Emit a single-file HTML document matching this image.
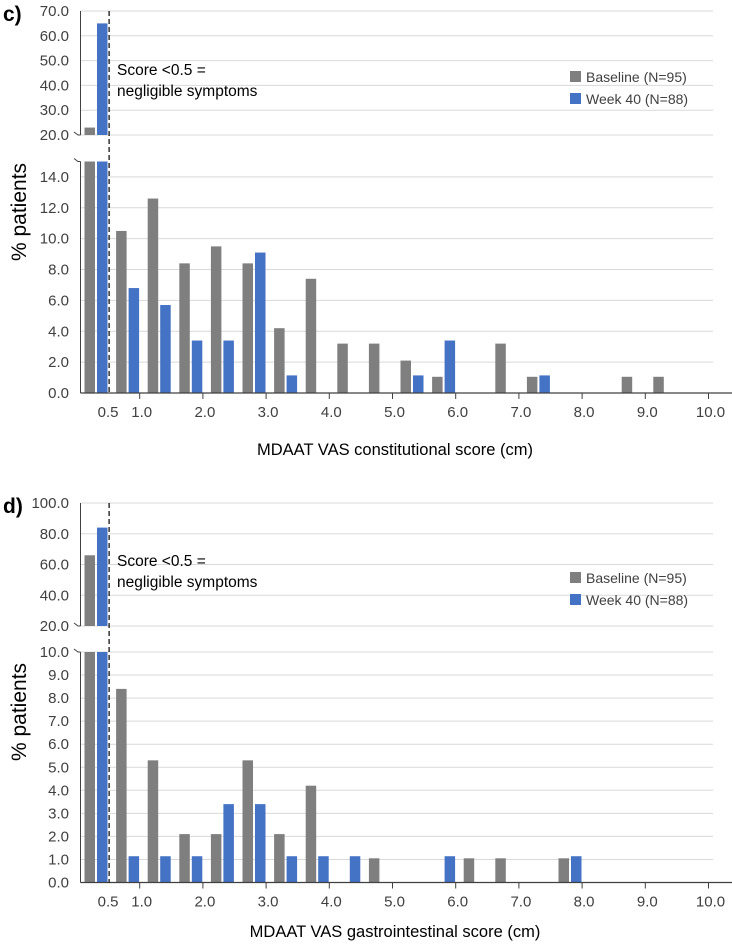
<!DOCTYPE html>
<html><head><meta charset="utf-8">
<style>
html,body{margin:0;padding:0;background:#fff;}
svg{display:block;font-family:"Liberation Sans",sans-serif;}
</style></head>
<body>
<svg id="chart" width="732" height="944" viewBox="0 0 732 944"></svg>
<script>
const binCount = 20;
const xTickLabels = ["1.0","2.0","3.0","4.0","5.0","6.0","7.0","8.0","9.0","10.0"];
const xTickValues = [1,2,3,4,5,6,7,8,9,10];
// panel c
const cBaseline = [23,10.5,12.6,8.4,9.5,8.4,4.2,7.4,3.2,3.2,2.1,1.05,0,3.2,1.05,0,0,1.05,1.05,0];
const cWeek40   = [65,6.8,5.7,3.4,3.4,9.1,1.14,0,0,0,1.14,3.4,0,0,1.14,0,0,0,0,0];
const cTopTicks = [20,30,40,50,60,70];
const cLowTicks = [0,2,4,6,8,10,12,14];
// panel d
const dBaseline = [66,8.4,5.3,2.1,2.1,5.3,2.1,4.2,0,1.05,0,0,1.05,1.05,0,1.05,0,0,0,0];
const dWeek40   = [84,1.14,1.14,1.14,3.4,3.4,1.14,1.14,1.14,0,0,1.14,0,0,0,1.14,0,0,0,0];
const dTopTicks = [20,40,60,80,100];
const dLowTicks = [0,1,2,3,4,5,6,7,8,9,10];

const NS="http://www.w3.org/2000/svg";
const svg=document.getElementById('chart');
function el(tag,attrs,parent,text){const e=document.createElementNS(NS,tag);for(const k in attrs)e.setAttribute(k,attrs[k]);if(text!==undefined)e.textContent=text;(parent||svg).appendChild(e);return e;}
const xScale=v=>76.5+63.2*v;
const GRAY="#7f7f7f",BLUE="#4472c4";

function panel(cfg){
  const g=el('g',{});
  
  
  const axX=80.5, right=713;
  const yTop=v=>cfg.topY1+(cfg.topMax-v)*(cfg.topY0-cfg.topY1)/(cfg.topMax-cfg.topMin);
  const yLow=v=>cfg.lowY0-v*(cfg.lowY0-cfg.lowYmaxPx)/cfg.lowMax;
  cfg.topTicks.forEach(t=>{
    const l=el('line',{x1:axX,x2:right,y1:yTop(t),y2:yTop(t),stroke:'#d9d9d9','stroke-width':1},g);
    
    const tx=el('text',{x:69,y:yTop(t)+5,'text-anchor':'end','font-size':15,fill:'#404040'},g,t.toFixed(1));
    
  });
  cfg.lowTicks.forEach(t=>{
    if(t>0){const l=el('line',{x1:axX,x2:right,y1:yLow(t),y2:yLow(t),stroke:'#d9d9d9','stroke-width':1},g);
    }
    const tx=el('text',{x:69,y:yLow(t)+5,'text-anchor':'end','font-size':15,fill:'#404040'},g,t.toFixed(1));
    
  });
  const w=10.5;
  for(let i=0;i<binCount;i++){
    const a=xScale(i*0.5);
    [[cfg.base[i],a+8,GRAY,'bar-baseline'],[cfg.wk[i],a+20.5,BLUE,'bar-week40']].forEach(([v,x,c,n])=>{
      if(!v)return;
      if(v>cfg.lowMax){
        const r1=el('rect',{x:x,y:yTop(v),width:w,height:yTop(cfg.topMin)-yTop(v),fill:c},g);
        
        const r2=el('rect',{x:x,y:cfg.lowYmaxPx,width:w,height:cfg.lowY0-cfg.lowYmaxPx,fill:c},g);
        
      } else {
        const r=el('rect',{x:x,y:yLow(v),width:w,height:cfg.lowY0-yLow(v),fill:c},g);
        
      }
    });
  }
  const ya=el('line',{x1:axX,x2:axX,y1:cfg.topY1,y2:yTop(cfg.topMin),stroke:'#404040','stroke-width':1},g);
  
  const yb=el('line',{x1:axX,x2:axX,y1:cfg.lowYmaxPx,y2:cfg.lowY0,stroke:'#404040','stroke-width':1},g);
  
  const b1=el('path',{d:`M74 ${yTop(cfg.topMin)-3} L78 ${yTop(cfg.topMin)} L${axX} ${yTop(cfg.topMin)}`,stroke:'#404040',fill:'none'},g);
  
  const b2=el('path',{d:`M74 ${cfg.lowYmaxPx-3} L78 ${cfg.lowYmaxPx} L${axX} ${cfg.lowYmaxPx}`,stroke:'#404040',fill:'none'},g);
  
  const xa=el('line',{x1:axX,x2:732,y1:cfg.lowY0,y2:cfg.lowY0,stroke:'#404040','stroke-width':1.3},g);
  
  xTickValues.forEach((v,i)=>{
    const tk=el('line',{x1:xScale(v),x2:xScale(v),y1:cfg.lowY0,y2:cfg.lowY0+6,stroke:'#404040'},g);
    
    const tx=el('text',{x:xScale(v)+2,y:cfg.lowY0+24,'text-anchor':'middle','font-size':15,fill:'#404040'},g,xTickLabels[i]);
    
  });
  const t05=el('text',{x:xScale(0.5),y:cfg.lowY0+24,'text-anchor':'middle','font-size':15,fill:'#404040'},g,'0.5');
  
  const dl=el('line',{x1:xScale(0.5)+1,x2:xScale(0.5)+1,y1:cfg.topY1,y2:cfg.lowY0,stroke:'#000','stroke-width':1.2,'stroke-dasharray':'5,3'},g);
  
  const a1=el('text',{x:117,y:cfg.annY,'font-size':15.5,fill:'#000'},g,'Score <0.5 =');
  
  const a2=el('text',{x:117,y:cfg.annY+21,'font-size':15.5,fill:'#000'},g,'negligible symptoms');
  
  const ls1=el('rect',{x:570,y:cfg.legY-6,width:11,height:11,fill:GRAY},g);
  
  const lt1=el('text',{x:586,y:cfg.legY+5,'font-size':14,fill:'#404040'},g,'Baseline (N=95)');
  
  const ls2=el('rect',{x:570,y:cfg.legY+16,width:11,height:11,fill:BLUE},g);
  
  const lt2=el('text',{x:586,y:cfg.legY+27,'font-size':14,fill:'#404040'},g,'Week 40 (N=88)');
  
  const yt=el('text',{x:0,y:0,'font-size':21,fill:'#000','text-anchor':'middle',transform:`translate(26 ${cfg.yTitleY}) rotate(-90)`},g,'% patients');
  
  const xt=el('text',{x:395,y:cfg.xTitleY,'font-size':16.5,fill:'#000','text-anchor':'middle'},g,cfg.xTitle);
  
  const pl=el('text',{x:3,y:cfg.topY1+10,'font-size':21,'font-weight':'bold',fill:'#000'},g,cfg.label);
  
}

panel({name:'panel-c-constitutional',label:'c)',base:cBaseline,wk:cWeek40,topTicks:cTopTicks,lowTicks:cLowTicks,
  topMin:20,topMax:70,topY1:11,topY0:135,lowMax:15,lowYmaxPx:161.5,lowY0:393,annY:75,legY:77,yTitleY:212,xTitleY:455,
  xTitle:'MDAAT VAS constitutional score (cm)'});
panel({name:'panel-d-gastrointestinal',label:'d)',base:dBaseline,wk:dWeek40,topTicks:dTopTicks,lowTicks:dLowTicks,
  topMin:20,topMax:100,topY1:503,topY0:626,lowMax:10,lowYmaxPx:652,lowY0:882.5,annY:566,legY:578,yTitleY:712,xTitleY:937,
  xTitle:'MDAAT VAS gastrointestinal score (cm)'});
</script>
</body></html>
